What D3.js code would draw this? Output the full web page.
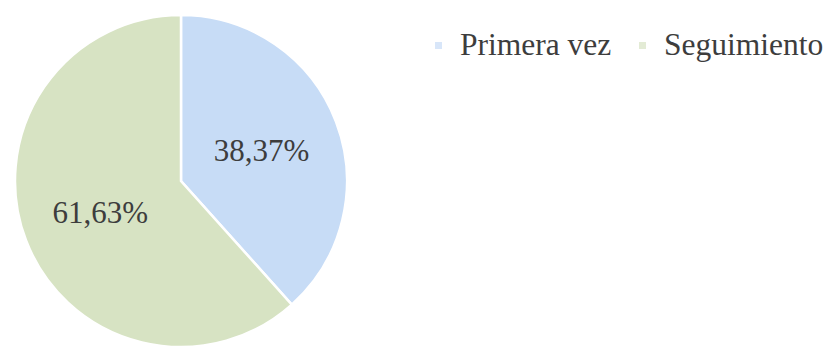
<!DOCTYPE html>
<html>
<head>
<meta charset="utf-8">
<script src="https://cdn.jsdelivr.net/npm/d3@7"></script>
<style>
  html, body { margin: 0; padding: 0; background: #ffffff; }
  svg { display: block; }
</style>
</head>
<body>
<svg id="chart" width="828" height="346"></svg>
<script>
// Consultation type shares (%)
const categories = ["Primera vez", "Seguimiento"];
const values = [38.37, 61.63];
const valueLabels = ["38,37%", "61,63%"];
const colors = ["#c7dcf6", "#d7e3c3"];

const svg = d3.select("#chart");
const cx = 181, cy = 181, radius = 166;

const pie = d3.pie().sort(null).value(d => d.value);
const arcs = pie(categories.map((c, i) => ({ name: c, value: values[i], label: valueLabels[i] })));

const arc = d3.arc().innerRadius(0).outerRadius(radius);
const labelArc = d3.arc().innerRadius(radius * 0.52).outerRadius(radius * 0.52);

const g = svg.append("g").attr("transform", `translate(${cx},${cy})`);

g.selectAll("path.slice")
  .data(arcs)
  .join("path")
  .attr("class", "slice")
  .attr("d", arc)
  .attr("fill", (d, i) => colors[i])
  .attr("stroke", "#ffffff")
  .attr("stroke-width", 2.5);

g.selectAll("text.val")
  .data(arcs)
  .join("text")
  .attr("class", "val")
  .attr("transform", d => {
    const [x, y] = labelArc.centroid(d);
    return `translate(${x},${y})`;
  })
  .attr("text-anchor", "middle")
  .attr("dy", "0.35em")
  .attr("font-family", "'Liberation Serif', 'Times New Roman', serif")
  .attr("font-size", 31)
  .attr("fill", "#3d3d3d")
  .text(d => d.data.label);

// Legend
const legend = svg.append("g").attr("transform", "translate(435,55)");
const legendX = [0, 204];
const item = legend.selectAll("g.item")
  .data(categories)
  .join("g")
  .attr("class", "item")
  .attr("transform", (d, i) => `translate(${legendX[i]},0)`);

item.append("rect")
  .attr("x", 0)
  .attr("y", -13)
  .attr("width", 7)
  .attr("height", 7)
  .attr("fill", (d, i) => colors[i])
  .attr("opacity", 0.7);

item.append("text")
  .attr("x", 25)
  .attr("y", 0)
  .attr("font-family", "'Liberation Serif', 'Times New Roman', serif")
  .attr("font-size", 31.5)
  .attr("fill", "#3d3d3d")
  .text(d => d);
</script>
</body>
</html>
